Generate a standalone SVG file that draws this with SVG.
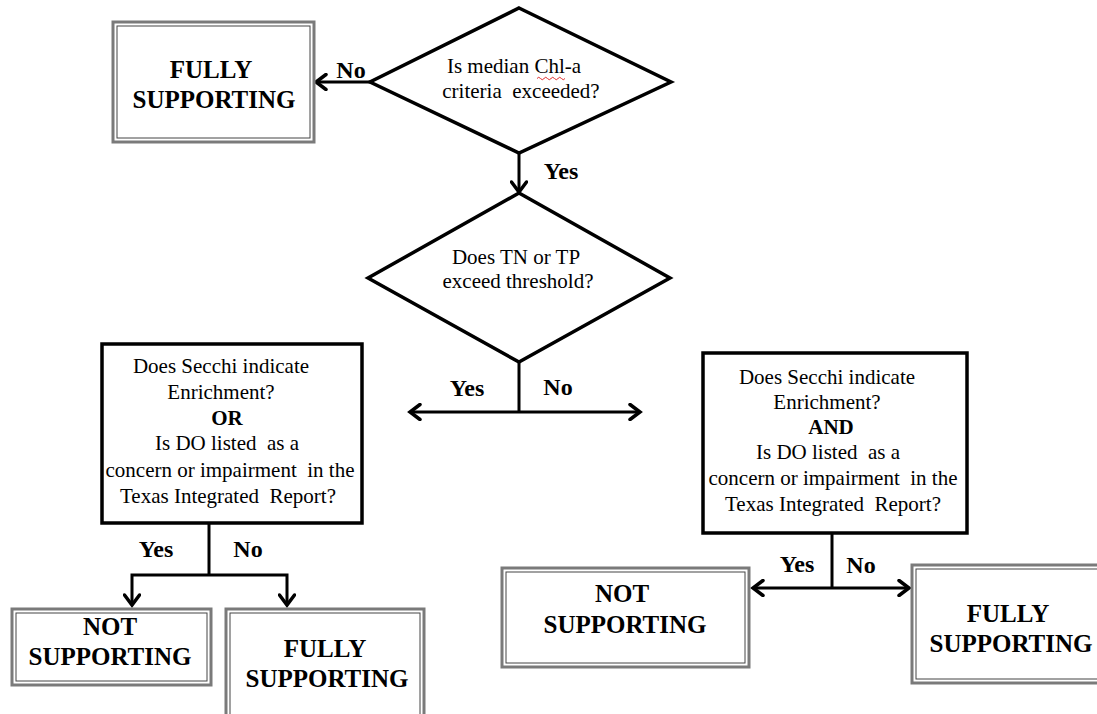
<svg xmlns="http://www.w3.org/2000/svg" width="1097" height="714" viewBox="0 0 1097 714">
<defs>
<style>
.q{font-family:"Liberation Serif","Times New Roman",serif;font-size:21px;fill:#000;text-anchor:middle;white-space:pre}
.b{font-family:"Liberation Serif","Times New Roman",serif;font-size:21px;font-weight:bold;fill:#000;text-anchor:middle}
.res{font-family:"Liberation Serif","Times New Roman",serif;font-size:25px;font-weight:bold;fill:#000;text-anchor:middle}
.lbl{font-family:"Liberation Serif","Times New Roman",serif;font-size:24px;font-weight:bold;fill:#000;text-anchor:middle}
.dia{fill:#fff;stroke:#000;stroke-width:3.5;stroke-linejoin:miter}
.qbox{fill:#fff;stroke:#000;stroke-width:3.5}
.outer{fill:#fff;stroke:#7a7a7a;stroke-width:3}
.inner{fill:none;stroke:#444;stroke-width:1}
.ln{fill:none;stroke:#000;stroke-width:3}
.arr{fill:none;stroke:#000;stroke-width:3;marker-end:url(#ah)}
</style>
<marker id="ah" markerUnits="userSpaceOnUse" markerWidth="18" markerHeight="18" viewBox="0 0 18 18" refX="15" refY="9" orient="auto">
<path d="M5,1.5 L15,9 L5,16.5" fill="none" stroke="#000" stroke-width="3.5" stroke-linecap="round" stroke-linejoin="miter"/>
</marker>
</defs>
<rect width="1097" height="714" fill="#fff"/>

<g id="connectors">
<path class="arr" d="M370,82 L316,82"/>
<path class="arr" d="M519,153 L519,192"/>
<path class="ln" d="M519,362 L519,412"/>
<path class="arr" d="M519,412 L410,412"/>
<path class="arr" d="M519,412 L640,412"/>
<path class="ln" d="M209,523 L209,575"/>
<path class="arr" d="M209,575 L132,575 L132,605"/>
<path class="arr" d="M209,575 L287,575 L287,605"/>
<path class="ln" d="M832,533 L832,588"/>
<path class="arr" d="M832,588 L753,588"/>
<path class="arr" d="M832,588 L909,588"/>
<text class="lbl" x="351" y="78">No</text>
<text class="lbl" x="561" y="179">Yes</text>
<text class="lbl" x="467" y="396">Yes</text>
<text class="lbl" x="558" y="395">No</text>
<text class="lbl" x="156" y="557">Yes</text>
<text class="lbl" x="248" y="557">No</text>
<text class="lbl" x="797" y="572">Yes</text>
<text class="lbl" x="861" y="573">No</text>
</g>

<g id="q1">
<polygon class="dia" points="519,8 671,82 519,153 370,82"/>
<text class="q" x="514" y="73">Is median Chl-a</text>
<text class="q" x="521" y="98">criteria  exceeded?</text>
<path d="M537,78.5 q1.75,-2.5 3.5,0 t3.5,0 t3.5,0 t3.5,0 t3.5,0 t3.5,0 t3.5,0 t3.5,0" fill="none" stroke="#e03030" stroke-width="1"/>
</g>

<g id="r1">
<rect class="outer" x="113" y="22" width="201" height="120"/>
<rect class="inner" x="117" y="26" width="193" height="112"/>
<text class="res" x="211" y="78">FULLY</text>
<text class="res" x="214" y="108">SUPPORTING</text>
</g>

<g id="q2">
<polygon class="dia" points="519,193 670,278 519,362 368,278"/>
<text class="q" x="516" y="264">Does TN or TP</text>
<text class="q" x="518" y="288">exceed threshold?</text>
</g>

<g id="q3">
<rect class="qbox" x="102" y="344" width="260" height="179"/>
<text class="q" x="221" y="373">Does Secchi indicate</text>
<text class="q" x="221" y="399">Enrichment?</text>
<text class="b" x="227" y="425">OR</text>
<text class="q" x="227" y="450">Is DO listed  as a</text>
<text class="q" x="230" y="477">concern or impairment  in the</text>
<text class="q" x="228" y="503">Texas Integrated  Report?</text>
</g>

<g id="q4">
<rect class="qbox" x="703" y="353" width="264" height="180"/>
<text class="q" x="827" y="384">Does Secchi indicate</text>
<text class="q" x="827" y="409">Enrichment?</text>
<text class="b" x="831" y="434">AND</text>
<text class="q" x="828" y="459">Is DO listed  as a</text>
<text class="q" x="833" y="485">concern or impairment  in the</text>
<text class="q" x="833" y="511">Texas Integrated  Report?</text>
</g>

<g id="r2">
<rect class="outer" x="12" y="609" width="199" height="76"/>
<rect class="inner" x="16" y="613" width="191" height="68"/>
<text class="res" x="110" y="635">NOT</text>
<text class="res" x="110" y="665">SUPPORTING</text>
</g>

<g id="r3">
<rect class="outer" x="226" y="609" width="198" height="120"/>
<rect class="inner" x="230" y="613" width="190" height="112"/>
<text class="res" x="325" y="657">FULLY</text>
<text class="res" x="327" y="687">SUPPORTING</text>
</g>

<g id="r4">
<rect class="outer" x="502" y="568" width="247" height="99"/>
<rect class="inner" x="506" y="572" width="239" height="91"/>
<text class="res" x="622" y="602">NOT</text>
<text class="res" x="625" y="633">SUPPORTING</text>
</g>

<g id="r5">
<rect class="outer" x="912" y="565" width="200" height="118"/>
<rect class="inner" x="916" y="569" width="192" height="110"/>
<text class="res" x="1008" y="622">FULLY</text>
<text class="res" x="1011" y="652">SUPPORTING</text>
</g>
</svg>
